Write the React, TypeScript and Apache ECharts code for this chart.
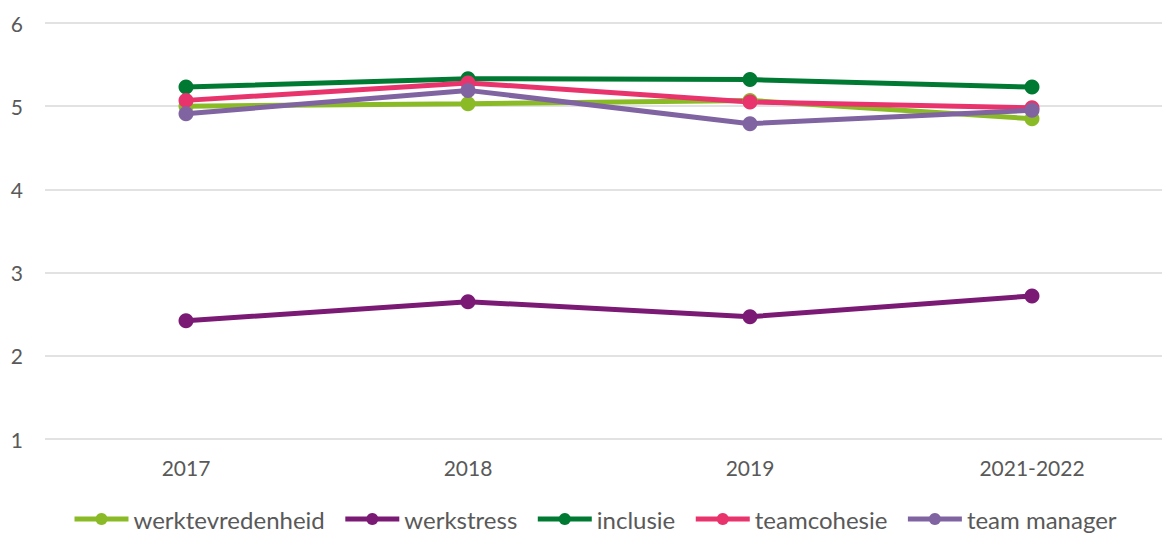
import React, { useEffect, useRef } from "react";
import * as echarts from "echarts";

const categories = ["2017", "2018", "2019", "2021-2022"];
const seriesNames = ["werktevredenheid", "werkstress", "inclusie", "teamcohesie", "team manager"];
const werktevredenheid = [5.0, 5.03, 5.07, 4.85];
const werkstress = [2.42, 2.65, 2.47, 2.72];
const inclusie = [5.23, 5.33, 5.32, 5.23];
const teamcohesie = [5.07, 5.28, 5.05, 4.98];
const teamManager = [4.91, 5.19, 4.79, 4.95];
const colors = ["#8ABB26", "#7B1A74", "#007A33", "#E8336D", "#8064A2"];

export default function App() {
  const ref = useRef<HTMLDivElement>(null);
  useEffect(() => {
    const chart = echarts.init(ref.current!, null, { renderer: "svg" });
    const data = [werktevredenheid, werkstress, inclusie, teamcohesie, teamManager];
    chart.setOption({
      animation: false,
      textStyle: { fontFamily: "Lato" },
      grid: { left: 45, top: 23, width: 1128, height: 416, outerBoundsMode: "none", containLabel: false },
      legend: {
        top: 507,
        left: 72,
        width: 1090,
        padding: 0,
        itemWidth: 54,
        itemHeight: 15,
        itemGap: 18,
        lineStyle: { width: 5 },
        textStyle: { fontSize: 24, color: "#595959", fontFamily: "Lato" },
        data: seriesNames,
      },
      xAxis: {
        type: "category",
        data: categories,
        boundaryGap: true,
        axisLine: { show: false },
        axisTick: { show: false },
        axisLabel: { fontSize: 21, color: "#595959", margin: 18, fontFamily: "Lato" },
      },
      yAxis: {
        type: "value",
        min: 1,
        max: 6,
        interval: 1,
        axisLine: { show: false },
        axisTick: { show: false },
        axisLabel: { fontSize: 21, color: "#595959", margin: 22, fontFamily: "Lato" },
        splitLine: { lineStyle: { color: "#D9D9D9", width: 1.5 } },
      },
      series: seriesNames.map((name, i) => ({
        name,
        type: "line",
        data: data[i],
        symbol: "circle",
        symbolSize: 15,
        lineStyle: { width: 5, color: colors[i] },
        itemStyle: { color: colors[i] },
      })),
    });
    return () => chart.dispose();
  }, []);
  return <div ref={ref} style={{ width: 1162, height: 535, position: "absolute", left: 0, top: 0 }} />;
}
